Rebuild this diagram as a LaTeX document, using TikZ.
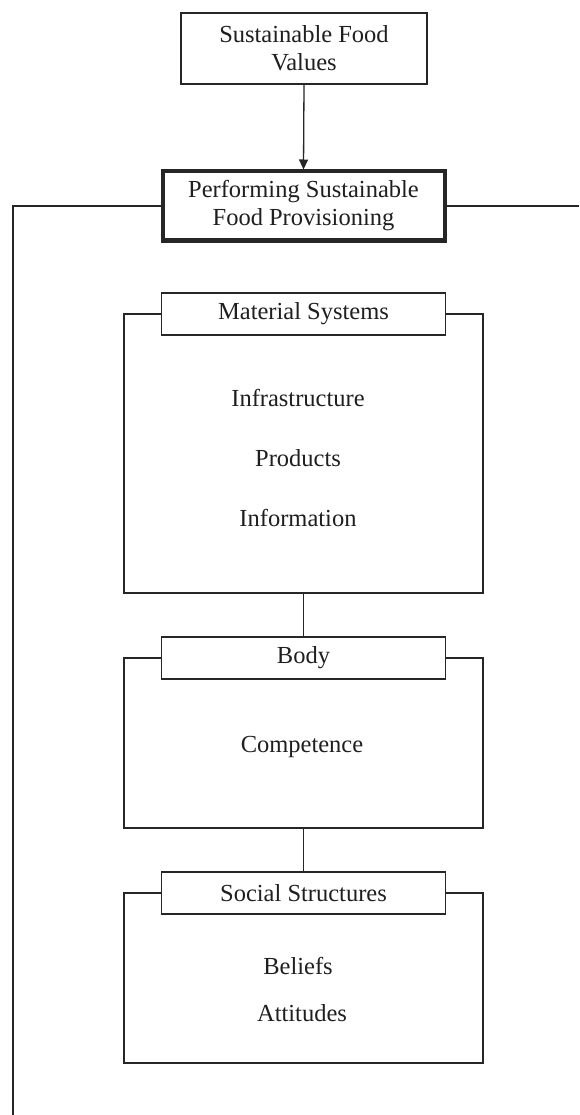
\documentclass[tikz,border=0pt]{standalone}
\usepackage{fontspec}
\setmainfont{Liberation Serif}
\usetikzlibrary{arrows.meta}
\begin{document}
\begin{tikzpicture}[x=1pt,y=-1pt,
  txt/.style={font=\fontsize{24.5}{28}\selectfont, text=black!88, align=center},
  box/.style={txt, draw=black!85, line width=1.3pt, fill=white, inner sep=0pt},
  mainbox/.style={box, line width=4pt},
  headbox/.style={box, minimum width=284pt, minimum height=42pt},
  frame/.style={draw=black!85, line width=1.3pt},
  link/.style={draw=black!85, line width=1.3pt}]
\useasboundingbox[fill=white] (0,0) rectangle (579,1115);

% top: values feeding the provisioning practice
\node[box, minimum width=246pt, minimum height=71pt] (values) at (304,48.5)
  {Sustainable Food\\Values};
\node[mainbox, minimum width=282pt, minimum height=69pt] (perf) at (303.5,206)
  {Performing Sustainable\\Food Provisioning};
\draw[link, -{Triangle[width=9pt,length=10pt]}] (values.south) -- (perf.north);

% side lines leaving the provisioning box
\coordinate (lend) at (13,1115);
\coordinate (rend) at (579,206);
\draw[link] (perf.west) -| (lend);
\draw[link] (perf.east) -- (rend);

% material systems
\node[headbox] (mat) at (303.5,314) {Material Systems};
\coordinate (matbl) at (124,593);
\coordinate (matbr) at (483,593);
\coordinate (matbot) at (303.5,593);
\draw[frame] (mat.west) -| (matbl) -- (matbr) |- (mat.east);
\node[txt] (infra) at (298,398) {Infrastructure};
\node[txt] (prod) at (298,458) {Products};
\node[txt] (info) at (298,518) {Information};

% body
\node[headbox] (body) at (303.5,658) {Body};
\coordinate (bodybl) at (124,828);
\coordinate (bodybr) at (483,828);
\coordinate (bodybot) at (303.5,828);
\draw[frame] (body.west) -| (bodybl) -- (bodybr) |- (body.east);
\node[txt] (comp) at (302,747) {Competence};
\draw[link] (matbot) -- (body.north);

% social structures
\node[headbox] (soc) at (303.5,893) {Social Structures};
\coordinate (socbl) at (124,1063);
\coordinate (socbr) at (483,1063);
\draw[frame] (soc.west) -| (socbl) -- (socbr) |- (soc.east);
\node[txt] (bel) at (298,966) {Beliefs};
\node[txt] (att) at (302,1013) {Attitudes};
\draw[link] (bodybot) -- (soc.north);
\end{tikzpicture}
\end{document}
